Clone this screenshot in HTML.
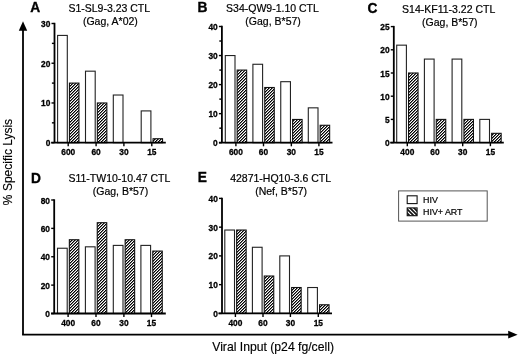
<!DOCTYPE html>
<html><head><meta charset="utf-8"><style>
html,body{margin:0;padding:0;background:#fff;width:520px;height:357px;overflow:hidden}
text{font-family:"Liberation Sans", sans-serif}
svg{will-change:transform}
</style></head><body>
<svg width="520" height="357" viewBox="0 0 520 357" style="display:block">
<defs>
<pattern id="h" patternUnits="userSpaceOnUse" width="3" height="3"><rect width="3" height="3" fill="#fff"/><rect x="0" y="0" width="1" height="1" fill="#777"/><rect x="2" y="0" width="1" height="1" fill="#000"/><rect x="1" y="1" width="1" height="1" fill="#000"/><rect x="2" y="1" width="1" height="1" fill="#777"/><rect x="0" y="2" width="1" height="1" fill="#000"/><rect x="1" y="2" width="1" height="1" fill="#777"/></pattern>
<pattern id="lh" patternUnits="userSpaceOnUse" width="4" height="4"><rect width="4" height="4" fill="#111"/><path d="M-1,-1 L5,5 M-1,3 L1,5 M3,-1 L5,1" stroke="#fff" stroke-width="1.2"/></pattern>
</defs>
<rect width="520" height="357" fill="#fff"/>
<rect x="57.6" y="35.42" width="9.7" height="107.28" fill="#fff" stroke="#222" stroke-width="1.1"/>
<rect x="69.45" y="83.1" width="9.5" height="59.6" fill="url(#h)" stroke="#111" stroke-width="1.1"/>
<rect x="85.5" y="71.18" width="9.7" height="71.52" fill="#fff" stroke="#222" stroke-width="1.1"/>
<rect x="97.35" y="102.97" width="9.5" height="39.73" fill="url(#h)" stroke="#111" stroke-width="1.1"/>
<rect x="113.3" y="95.02" width="9.7" height="47.68" fill="#fff" stroke="#222" stroke-width="1.1"/>
<rect x="141.2" y="110.91" width="9.7" height="31.79" fill="#fff" stroke="#222" stroke-width="1.1"/>
<rect x="153.05" y="138.73" width="9.5" height="3.97" fill="url(#h)" stroke="#111" stroke-width="1.1"/>
<line x1="54.5" y1="22.8" x2="54.5" y2="142.7" stroke="#000" stroke-width="1.8"/>
<line x1="51.2" y1="142.7" x2="165.8" y2="142.7" stroke="#000" stroke-width="1.8"/>
<line x1="51.5" y1="142.7" x2="54.5" y2="142.7" stroke="#000" stroke-width="1.4"/>
<text transform="translate(50.3,146.2) scale(0.92,1)" text-anchor="end" font-family='"Liberation Sans", sans-serif' font-weight="bold" font-size="9.1" stroke="#000" stroke-width="0.3">0</text>
<line x1="51.5" y1="102.97" x2="54.5" y2="102.97" stroke="#000" stroke-width="1.4"/>
<text transform="translate(50.3,106.47) scale(0.92,1)" text-anchor="end" font-family='"Liberation Sans", sans-serif' font-weight="bold" font-size="9.1" stroke="#000" stroke-width="0.3">10</text>
<line x1="51.5" y1="63.23" x2="54.5" y2="63.23" stroke="#000" stroke-width="1.4"/>
<text transform="translate(50.3,66.73) scale(0.92,1)" text-anchor="end" font-family='"Liberation Sans", sans-serif' font-weight="bold" font-size="9.1" stroke="#000" stroke-width="0.3">20</text>
<line x1="51.5" y1="23.5" x2="54.5" y2="23.5" stroke="#000" stroke-width="1.4"/>
<text transform="translate(50.3,27) scale(0.92,1)" text-anchor="end" font-family='"Liberation Sans", sans-serif' font-weight="bold" font-size="9.1" stroke="#000" stroke-width="0.3">30</text>
<line x1="51.9" y1="122.83" x2="54.5" y2="122.83" stroke="#000" stroke-width="1.4"/>
<line x1="51.9" y1="83.1" x2="54.5" y2="83.1" stroke="#000" stroke-width="1.4"/>
<line x1="51.9" y1="43.37" x2="54.5" y2="43.37" stroke="#000" stroke-width="1.4"/>
<line x1="68.2" y1="142.7" x2="68.2" y2="146.3" stroke="#000" stroke-width="1.4"/>
<text transform="translate(68.2,155.1) scale(0.92,1)" text-anchor="middle" font-family='"Liberation Sans", sans-serif' font-weight="bold" font-size="9.1" stroke="#000" stroke-width="0.3">600</text>
<line x1="96.1" y1="142.7" x2="96.1" y2="146.3" stroke="#000" stroke-width="1.4"/>
<text transform="translate(96.1,155.1) scale(0.92,1)" text-anchor="middle" font-family='"Liberation Sans", sans-serif' font-weight="bold" font-size="9.1" stroke="#000" stroke-width="0.3">60</text>
<line x1="123.9" y1="142.7" x2="123.9" y2="146.3" stroke="#000" stroke-width="1.4"/>
<text transform="translate(123.9,155.1) scale(0.92,1)" text-anchor="middle" font-family='"Liberation Sans", sans-serif' font-weight="bold" font-size="9.1" stroke="#000" stroke-width="0.3">30</text>
<line x1="151.8" y1="142.7" x2="151.8" y2="146.3" stroke="#000" stroke-width="1.4"/>
<text transform="translate(151.8,155.1) scale(0.92,1)" text-anchor="middle" font-family='"Liberation Sans", sans-serif' font-weight="bold" font-size="9.1" stroke="#000" stroke-width="0.3">15</text>
<text transform="translate(35.1,12) scale(0.93,1)" text-anchor="middle" font-family='"Liberation Sans", sans-serif' font-weight="bold" font-size="14.8" stroke="#000" stroke-width="0.35">A</text>
<text x="109.25" y="11.8" text-anchor="middle" font-family='"Liberation Sans", sans-serif' font-size="10.5" fill="#000" stroke="#000" stroke-width="0.2">S1-SL9-3.23 CTL</text>
<text x="110.4" y="25.2" text-anchor="middle" font-family='"Liberation Sans", sans-serif' font-size="10.5" fill="#000" stroke="#000" stroke-width="0.2">(Gag, A*02)</text>
<rect x="225.3" y="55.55" width="9.7" height="87.15" fill="#fff" stroke="#222" stroke-width="1.1"/>
<rect x="237.15" y="70.07" width="9.5" height="72.62" fill="url(#h)" stroke="#111" stroke-width="1.1"/>
<rect x="252.9" y="64.27" width="9.7" height="78.43" fill="#fff" stroke="#222" stroke-width="1.1"/>
<rect x="264.75" y="87.5" width="9.5" height="55.19" fill="url(#h)" stroke="#111" stroke-width="1.1"/>
<rect x="280.75" y="81.69" width="9.7" height="61" fill="#fff" stroke="#222" stroke-width="1.1"/>
<rect x="292.6" y="119.46" width="9.5" height="23.24" fill="url(#h)" stroke="#111" stroke-width="1.1"/>
<rect x="308.3" y="107.84" width="9.7" height="34.86" fill="#fff" stroke="#222" stroke-width="1.1"/>
<rect x="320.15" y="125.27" width="9.5" height="17.43" fill="url(#h)" stroke="#111" stroke-width="1.1"/>
<line x1="221.9" y1="25.8" x2="221.9" y2="142.7" stroke="#000" stroke-width="1.8"/>
<line x1="219" y1="142.7" x2="332.5" y2="142.7" stroke="#000" stroke-width="1.8"/>
<line x1="218.9" y1="142.7" x2="221.9" y2="142.7" stroke="#000" stroke-width="1.4"/>
<text transform="translate(217.7,146.2) scale(0.92,1)" text-anchor="end" font-family='"Liberation Sans", sans-serif' font-weight="bold" font-size="9.1" stroke="#000" stroke-width="0.3">0</text>
<line x1="218.9" y1="113.65" x2="221.9" y2="113.65" stroke="#000" stroke-width="1.4"/>
<text transform="translate(217.7,117.15) scale(0.92,1)" text-anchor="end" font-family='"Liberation Sans", sans-serif' font-weight="bold" font-size="9.1" stroke="#000" stroke-width="0.3">10</text>
<line x1="218.9" y1="84.6" x2="221.9" y2="84.6" stroke="#000" stroke-width="1.4"/>
<text transform="translate(217.7,88.1) scale(0.92,1)" text-anchor="end" font-family='"Liberation Sans", sans-serif' font-weight="bold" font-size="9.1" stroke="#000" stroke-width="0.3">20</text>
<line x1="218.9" y1="55.55" x2="221.9" y2="55.55" stroke="#000" stroke-width="1.4"/>
<text transform="translate(217.7,59.05) scale(0.92,1)" text-anchor="end" font-family='"Liberation Sans", sans-serif' font-weight="bold" font-size="9.1" stroke="#000" stroke-width="0.3">30</text>
<line x1="218.9" y1="26.5" x2="221.9" y2="26.5" stroke="#000" stroke-width="1.4"/>
<text transform="translate(217.7,30) scale(0.92,1)" text-anchor="end" font-family='"Liberation Sans", sans-serif' font-weight="bold" font-size="9.1" stroke="#000" stroke-width="0.3">40</text>
<line x1="219.3" y1="128.17" x2="221.9" y2="128.17" stroke="#000" stroke-width="1.4"/>
<line x1="219.3" y1="99.12" x2="221.9" y2="99.12" stroke="#000" stroke-width="1.4"/>
<line x1="219.3" y1="70.07" x2="221.9" y2="70.07" stroke="#000" stroke-width="1.4"/>
<line x1="219.3" y1="41.02" x2="221.9" y2="41.02" stroke="#000" stroke-width="1.4"/>
<line x1="235.9" y1="142.7" x2="235.9" y2="146.3" stroke="#000" stroke-width="1.4"/>
<text transform="translate(235.9,155.1) scale(0.92,1)" text-anchor="middle" font-family='"Liberation Sans", sans-serif' font-weight="bold" font-size="9.1" stroke="#000" stroke-width="0.3">600</text>
<line x1="263.5" y1="142.7" x2="263.5" y2="146.3" stroke="#000" stroke-width="1.4"/>
<text transform="translate(263.5,155.1) scale(0.92,1)" text-anchor="middle" font-family='"Liberation Sans", sans-serif' font-weight="bold" font-size="9.1" stroke="#000" stroke-width="0.3">60</text>
<line x1="291.35" y1="142.7" x2="291.35" y2="146.3" stroke="#000" stroke-width="1.4"/>
<text transform="translate(291.35,155.1) scale(0.92,1)" text-anchor="middle" font-family='"Liberation Sans", sans-serif' font-weight="bold" font-size="9.1" stroke="#000" stroke-width="0.3">30</text>
<line x1="318.9" y1="142.7" x2="318.9" y2="146.3" stroke="#000" stroke-width="1.4"/>
<text transform="translate(318.9,155.1) scale(0.92,1)" text-anchor="middle" font-family='"Liberation Sans", sans-serif' font-weight="bold" font-size="9.1" stroke="#000" stroke-width="0.3">15</text>
<text transform="translate(202.4,12) scale(0.93,1)" text-anchor="middle" font-family='"Liberation Sans", sans-serif' font-weight="bold" font-size="14.8" stroke="#000" stroke-width="0.35">B</text>
<text x="272.5" y="12" text-anchor="middle" font-family='"Liberation Sans", sans-serif' font-size="10.5" fill="#000" stroke="#000" stroke-width="0.2">S34-QW9-1.10 CTL</text>
<text x="273.1" y="25.2" text-anchor="middle" font-family='"Liberation Sans", sans-serif' font-size="10.5" fill="#000" stroke="#000" stroke-width="0.2">(Gag, B*57)</text>
<rect x="396.7" y="45.16" width="9.7" height="97.44" fill="#fff" stroke="#222" stroke-width="1.1"/>
<rect x="408.55" y="73" width="9.5" height="69.6" fill="url(#h)" stroke="#111" stroke-width="1.1"/>
<rect x="424.4" y="59.08" width="9.7" height="83.52" fill="#fff" stroke="#222" stroke-width="1.1"/>
<rect x="436.25" y="119.4" width="9.5" height="23.2" fill="url(#h)" stroke="#111" stroke-width="1.1"/>
<rect x="452.1" y="59.08" width="9.7" height="83.52" fill="#fff" stroke="#222" stroke-width="1.1"/>
<rect x="463.95" y="119.4" width="9.5" height="23.2" fill="url(#h)" stroke="#111" stroke-width="1.1"/>
<rect x="479.8" y="119.4" width="9.7" height="23.2" fill="#fff" stroke="#222" stroke-width="1.1"/>
<rect x="491.65" y="133.32" width="9.5" height="9.28" fill="url(#h)" stroke="#111" stroke-width="1.1"/>
<line x1="393.8" y1="25.9" x2="393.8" y2="142.6" stroke="#000" stroke-width="1.8"/>
<line x1="390.2" y1="142.6" x2="503.8" y2="142.6" stroke="#000" stroke-width="1.8"/>
<line x1="390.8" y1="142.6" x2="393.8" y2="142.6" stroke="#000" stroke-width="1.4"/>
<text transform="translate(389.6,146.1) scale(0.92,1)" text-anchor="end" font-family='"Liberation Sans", sans-serif' font-weight="bold" font-size="9.1" stroke="#000" stroke-width="0.3">0</text>
<line x1="390.8" y1="119.4" x2="393.8" y2="119.4" stroke="#000" stroke-width="1.4"/>
<text transform="translate(389.6,122.9) scale(0.92,1)" text-anchor="end" font-family='"Liberation Sans", sans-serif' font-weight="bold" font-size="9.1" stroke="#000" stroke-width="0.3">5</text>
<line x1="390.8" y1="96.2" x2="393.8" y2="96.2" stroke="#000" stroke-width="1.4"/>
<text transform="translate(389.6,99.7) scale(0.92,1)" text-anchor="end" font-family='"Liberation Sans", sans-serif' font-weight="bold" font-size="9.1" stroke="#000" stroke-width="0.3">10</text>
<line x1="390.8" y1="73" x2="393.8" y2="73" stroke="#000" stroke-width="1.4"/>
<text transform="translate(389.6,76.5) scale(0.92,1)" text-anchor="end" font-family='"Liberation Sans", sans-serif' font-weight="bold" font-size="9.1" stroke="#000" stroke-width="0.3">15</text>
<line x1="390.8" y1="49.8" x2="393.8" y2="49.8" stroke="#000" stroke-width="1.4"/>
<text transform="translate(389.6,53.3) scale(0.92,1)" text-anchor="end" font-family='"Liberation Sans", sans-serif' font-weight="bold" font-size="9.1" stroke="#000" stroke-width="0.3">20</text>
<line x1="390.8" y1="26.6" x2="393.8" y2="26.6" stroke="#000" stroke-width="1.4"/>
<text transform="translate(389.6,30.1) scale(0.92,1)" text-anchor="end" font-family='"Liberation Sans", sans-serif' font-weight="bold" font-size="9.1" stroke="#000" stroke-width="0.3">25</text>
<line x1="407.3" y1="142.6" x2="407.3" y2="146.2" stroke="#000" stroke-width="1.4"/>
<text transform="translate(407.3,155) scale(0.92,1)" text-anchor="middle" font-family='"Liberation Sans", sans-serif' font-weight="bold" font-size="9.1" stroke="#000" stroke-width="0.3">400</text>
<line x1="435" y1="142.6" x2="435" y2="146.2" stroke="#000" stroke-width="1.4"/>
<text transform="translate(435,155) scale(0.92,1)" text-anchor="middle" font-family='"Liberation Sans", sans-serif' font-weight="bold" font-size="9.1" stroke="#000" stroke-width="0.3">60</text>
<line x1="462.7" y1="142.6" x2="462.7" y2="146.2" stroke="#000" stroke-width="1.4"/>
<text transform="translate(462.7,155) scale(0.92,1)" text-anchor="middle" font-family='"Liberation Sans", sans-serif' font-weight="bold" font-size="9.1" stroke="#000" stroke-width="0.3">30</text>
<line x1="490.4" y1="142.6" x2="490.4" y2="146.2" stroke="#000" stroke-width="1.4"/>
<text transform="translate(490.4,155) scale(0.92,1)" text-anchor="middle" font-family='"Liberation Sans", sans-serif' font-weight="bold" font-size="9.1" stroke="#000" stroke-width="0.3">15</text>
<text transform="translate(372.4,13.4) scale(0.93,1)" text-anchor="middle" font-family='"Liberation Sans", sans-serif' font-weight="bold" font-size="14.8" stroke="#000" stroke-width="0.35">C</text>
<text x="448.7" y="12.6" text-anchor="middle" font-family='"Liberation Sans", sans-serif' font-size="10.5" fill="#000" stroke="#000" stroke-width="0.2">S14-KF11-3.22 CTL</text>
<text x="449.8" y="25.5" text-anchor="middle" font-family='"Liberation Sans", sans-serif' font-size="10.5" fill="#000" stroke="#000" stroke-width="0.2">(Gag, B*57)</text>
<rect x="57.5" y="248.24" width="9.7" height="65.26" fill="#fff" stroke="#222" stroke-width="1.1"/>
<rect x="69.35" y="239.73" width="9.5" height="73.77" fill="url(#h)" stroke="#111" stroke-width="1.1"/>
<rect x="85.4" y="246.82" width="9.7" height="66.68" fill="#fff" stroke="#222" stroke-width="1.1"/>
<rect x="97.25" y="222.7" width="9.5" height="90.8" fill="url(#h)" stroke="#111" stroke-width="1.1"/>
<rect x="113.3" y="245.4" width="9.7" height="68.1" fill="#fff" stroke="#222" stroke-width="1.1"/>
<rect x="125.15" y="239.73" width="9.5" height="73.77" fill="url(#h)" stroke="#111" stroke-width="1.1"/>
<rect x="140.9" y="245.4" width="9.7" height="68.1" fill="#fff" stroke="#222" stroke-width="1.1"/>
<rect x="152.75" y="251.07" width="9.5" height="62.43" fill="url(#h)" stroke="#111" stroke-width="1.1"/>
<line x1="54.2" y1="199.3" x2="54.2" y2="313.5" stroke="#000" stroke-width="1.8"/>
<line x1="51.1" y1="313.5" x2="165.8" y2="313.5" stroke="#000" stroke-width="1.8"/>
<line x1="51.2" y1="313.5" x2="54.2" y2="313.5" stroke="#000" stroke-width="1.4"/>
<text transform="translate(50,317) scale(0.92,1)" text-anchor="end" font-family='"Liberation Sans", sans-serif' font-weight="bold" font-size="9.1" stroke="#000" stroke-width="0.3">0</text>
<line x1="51.2" y1="285.12" x2="54.2" y2="285.12" stroke="#000" stroke-width="1.4"/>
<text transform="translate(50,288.62) scale(0.92,1)" text-anchor="end" font-family='"Liberation Sans", sans-serif' font-weight="bold" font-size="9.1" stroke="#000" stroke-width="0.3">20</text>
<line x1="51.2" y1="256.75" x2="54.2" y2="256.75" stroke="#000" stroke-width="1.4"/>
<text transform="translate(50,260.25) scale(0.92,1)" text-anchor="end" font-family='"Liberation Sans", sans-serif' font-weight="bold" font-size="9.1" stroke="#000" stroke-width="0.3">40</text>
<line x1="51.2" y1="228.38" x2="54.2" y2="228.38" stroke="#000" stroke-width="1.4"/>
<text transform="translate(50,231.88) scale(0.92,1)" text-anchor="end" font-family='"Liberation Sans", sans-serif' font-weight="bold" font-size="9.1" stroke="#000" stroke-width="0.3">60</text>
<line x1="51.2" y1="200" x2="54.2" y2="200" stroke="#000" stroke-width="1.4"/>
<text transform="translate(50,203.5) scale(0.92,1)" text-anchor="end" font-family='"Liberation Sans", sans-serif' font-weight="bold" font-size="9.1" stroke="#000" stroke-width="0.3">80</text>
<line x1="68.1" y1="313.5" x2="68.1" y2="317.1" stroke="#000" stroke-width="1.4"/>
<text transform="translate(68.1,325.9) scale(0.92,1)" text-anchor="middle" font-family='"Liberation Sans", sans-serif' font-weight="bold" font-size="9.1" stroke="#000" stroke-width="0.3">400</text>
<line x1="96" y1="313.5" x2="96" y2="317.1" stroke="#000" stroke-width="1.4"/>
<text transform="translate(96,325.9) scale(0.92,1)" text-anchor="middle" font-family='"Liberation Sans", sans-serif' font-weight="bold" font-size="9.1" stroke="#000" stroke-width="0.3">60</text>
<line x1="123.9" y1="313.5" x2="123.9" y2="317.1" stroke="#000" stroke-width="1.4"/>
<text transform="translate(123.9,325.9) scale(0.92,1)" text-anchor="middle" font-family='"Liberation Sans", sans-serif' font-weight="bold" font-size="9.1" stroke="#000" stroke-width="0.3">30</text>
<line x1="151.5" y1="313.5" x2="151.5" y2="317.1" stroke="#000" stroke-width="1.4"/>
<text transform="translate(151.5,325.9) scale(0.92,1)" text-anchor="middle" font-family='"Liberation Sans", sans-serif' font-weight="bold" font-size="9.1" stroke="#000" stroke-width="0.3">15</text>
<text transform="translate(36,183) scale(0.93,1)" text-anchor="middle" font-family='"Liberation Sans", sans-serif' font-weight="bold" font-size="14.8" stroke="#000" stroke-width="0.35">D</text>
<text x="119.4" y="182.2" text-anchor="middle" font-family='"Liberation Sans", sans-serif' font-size="10.5" fill="#000" stroke="#000" stroke-width="0.2">S11-TW10-10.47 CTL</text>
<text x="120.5" y="195.1" text-anchor="middle" font-family='"Liberation Sans", sans-serif' font-size="10.5" fill="#000" stroke="#000" stroke-width="0.2">(Gag, B*57)</text>
<rect x="224.8" y="230.03" width="9.7" height="83.37" fill="#fff" stroke="#222" stroke-width="1.1"/>
<rect x="236.65" y="230.03" width="9.5" height="83.37" fill="url(#h)" stroke="#111" stroke-width="1.1"/>
<rect x="252.4" y="247.27" width="9.7" height="66.12" fill="#fff" stroke="#222" stroke-width="1.1"/>
<rect x="264.25" y="276.02" width="9.5" height="37.38" fill="url(#h)" stroke="#111" stroke-width="1.1"/>
<rect x="279.8" y="255.9" width="9.7" height="57.5" fill="#fff" stroke="#222" stroke-width="1.1"/>
<rect x="291.65" y="287.52" width="9.5" height="25.88" fill="url(#h)" stroke="#111" stroke-width="1.1"/>
<rect x="307.7" y="287.52" width="9.7" height="25.88" fill="#fff" stroke="#222" stroke-width="1.1"/>
<rect x="319.55" y="304.77" width="9.5" height="8.62" fill="url(#h)" stroke="#111" stroke-width="1.1"/>
<line x1="222" y1="197.7" x2="222" y2="313.4" stroke="#000" stroke-width="1.8"/>
<line x1="218.4" y1="313.4" x2="332" y2="313.4" stroke="#000" stroke-width="1.8"/>
<line x1="219" y1="313.4" x2="222" y2="313.4" stroke="#000" stroke-width="1.4"/>
<text transform="translate(217.8,316.9) scale(0.92,1)" text-anchor="end" font-family='"Liberation Sans", sans-serif' font-weight="bold" font-size="9.1" stroke="#000" stroke-width="0.3">0</text>
<line x1="219" y1="284.65" x2="222" y2="284.65" stroke="#000" stroke-width="1.4"/>
<text transform="translate(217.8,288.15) scale(0.92,1)" text-anchor="end" font-family='"Liberation Sans", sans-serif' font-weight="bold" font-size="9.1" stroke="#000" stroke-width="0.3">10</text>
<line x1="219" y1="255.9" x2="222" y2="255.9" stroke="#000" stroke-width="1.4"/>
<text transform="translate(217.8,259.4) scale(0.92,1)" text-anchor="end" font-family='"Liberation Sans", sans-serif' font-weight="bold" font-size="9.1" stroke="#000" stroke-width="0.3">20</text>
<line x1="219" y1="227.15" x2="222" y2="227.15" stroke="#000" stroke-width="1.4"/>
<text transform="translate(217.8,230.65) scale(0.92,1)" text-anchor="end" font-family='"Liberation Sans", sans-serif' font-weight="bold" font-size="9.1" stroke="#000" stroke-width="0.3">30</text>
<line x1="219" y1="198.4" x2="222" y2="198.4" stroke="#000" stroke-width="1.4"/>
<text transform="translate(217.8,201.9) scale(0.92,1)" text-anchor="end" font-family='"Liberation Sans", sans-serif' font-weight="bold" font-size="9.1" stroke="#000" stroke-width="0.3">40</text>
<line x1="235.4" y1="313.4" x2="235.4" y2="317" stroke="#000" stroke-width="1.4"/>
<text transform="translate(235.4,325.8) scale(0.92,1)" text-anchor="middle" font-family='"Liberation Sans", sans-serif' font-weight="bold" font-size="9.1" stroke="#000" stroke-width="0.3">400</text>
<line x1="263" y1="313.4" x2="263" y2="317" stroke="#000" stroke-width="1.4"/>
<text transform="translate(263,325.8) scale(0.92,1)" text-anchor="middle" font-family='"Liberation Sans", sans-serif' font-weight="bold" font-size="9.1" stroke="#000" stroke-width="0.3">60</text>
<line x1="290.4" y1="313.4" x2="290.4" y2="317" stroke="#000" stroke-width="1.4"/>
<text transform="translate(290.4,325.8) scale(0.92,1)" text-anchor="middle" font-family='"Liberation Sans", sans-serif' font-weight="bold" font-size="9.1" stroke="#000" stroke-width="0.3">30</text>
<line x1="318.3" y1="313.4" x2="318.3" y2="317" stroke="#000" stroke-width="1.4"/>
<text transform="translate(318.3,325.8) scale(0.92,1)" text-anchor="middle" font-family='"Liberation Sans", sans-serif' font-weight="bold" font-size="9.1" stroke="#000" stroke-width="0.3">15</text>
<text transform="translate(202.4,182) scale(0.93,1)" text-anchor="middle" font-family='"Liberation Sans", sans-serif' font-weight="bold" font-size="14.8" stroke="#000" stroke-width="0.35">E</text>
<text x="280.65" y="181.8" text-anchor="middle" font-family='"Liberation Sans", sans-serif' font-size="10.5" fill="#000" stroke="#000" stroke-width="0.2">42871-HQ10-3.6 CTL</text>
<text x="281.15" y="195" text-anchor="middle" font-family='"Liberation Sans", sans-serif' font-size="10.5" fill="#000" stroke="#000" stroke-width="0.2">(Nef, B*57)</text>
<line x1="23" y1="28" x2="23" y2="334.7" stroke="#000" stroke-width="1.8"/>
<line x1="22.1" y1="334.7" x2="510" y2="334.7" stroke="#000" stroke-width="1.8"/>
<path d="M23,21.3 L27.2,30.8 L18.8,30.8 Z" fill="#000"/>
<path d="M517.6,334.7 L508.2,330.8 L508.2,338.6 Z" fill="#000"/>
<text transform="translate(12.2,162) rotate(-90)" text-anchor="middle" font-family='"Liberation Sans", sans-serif' font-size="12" fill="#000" stroke="#000" stroke-width="0.15">% Specific Lysis</text>
<text x="273.1" y="351.3" text-anchor="middle" font-family='"Liberation Sans", sans-serif' font-size="12.2" fill="#000" stroke="#000" stroke-width="0.15">Viral Input (p24 fg/cell)</text>
<rect x="398.6" y="190.9" width="88.6" height="30.2" fill="#fff" stroke="#555" stroke-width="1"/>
<rect x="407.2" y="195.8" width="9.9" height="7.8" fill="#fff" stroke="#111" stroke-width="1.1"/>
<rect x="407.2" y="207.9" width="9.9" height="7.8" fill="url(#lh)" stroke="#111" stroke-width="1.1"/>
<text x="423.0" y="202.8" font-family='"Liberation Sans", sans-serif' font-size="8.9" fill="#000" stroke="#000" stroke-width="0.2">HIV</text>
<text x="423.0" y="214.9" font-family='"Liberation Sans", sans-serif' font-size="8.9" fill="#000" stroke="#000" stroke-width="0.2">HIV+ ART</text>
</svg>
</body></html>
